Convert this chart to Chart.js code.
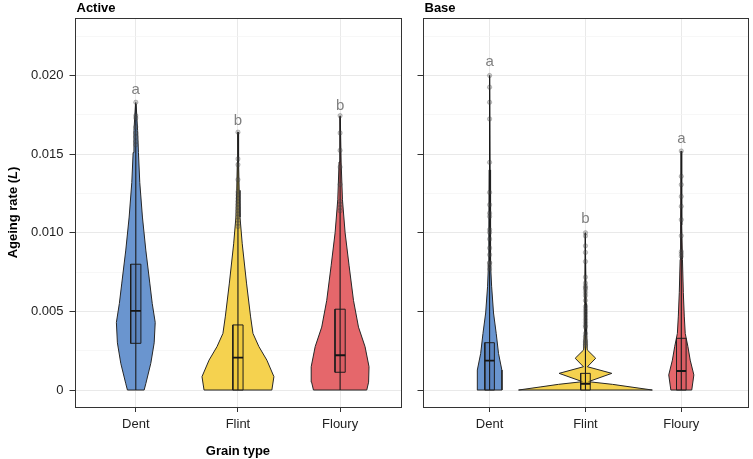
<!DOCTYPE html>
<html>
<head>
<meta charset="utf-8">
<script src="https://cdn.jsdelivr.net/npm/chart.js@4.4.1/dist/chart.umd.min.js"></script>
<style>
  html, body { margin: 0; padding: 0; background: #ffffff; }
  #wrap { position: relative; width: 753px; height: 459px; }
  #cA { position: absolute; left: 0; top: 0; }
  #cB { position: absolute; left: 406px; top: 0; }
</style>
</head>
<body>
<div id="wrap">
  <canvas id="cA" width="406" height="459"></canvas>
  <canvas id="cB" width="347" height="459"></canvas>
</div>
<script>
// ---------- data ----------
const categories = ['Dent', 'Flint', 'Floury'];
const panelTitles = ['Active', 'Base'];
const yTickValues = [0, 0.005, 0.010, 0.015, 0.020];
const yTickLabels = ['0', '0.005', '0.010', '0.015', '0.020'];
const yMinorValues = [0.0025, 0.0075, 0.0125, 0.0175, 0.0225];

// violin outlines: levels (ageing rate) and half-widths (category units)
const activeDentLevels   = [0, 0.0004, 0.0017, 0.003, 0.0043, 0.0055, 0.0068, 0.0089, 0.0110, 0.0132, 0.0151, 0.0165, 0.0182];
const activeDentWidths   = [0.082, 0.098, 0.147, 0.180, 0.190, 0.161, 0.137, 0.098, 0.065, 0.039, 0.026, 0.018, 0.003];
const activeFlintLevels  = [0, 0.00085, 0.0019, 0.00276, 0.0036, 0.0047, 0.0068, 0.0093, 0.0110, 0.0127, 0.0145, 0.0164];
const activeFlintWidths  = [0.332, 0.352, 0.283, 0.205, 0.147, 0.123, 0.084, 0.042, 0.020, 0.012, 0.006, 0.002];
const activeFlouryLevels = [0, 0.0005, 0.00148, 0.00276, 0.0040, 0.0057, 0.0079, 0.0100, 0.0121, 0.0145, 0.0174];
const activeFlouryWidths = [0.261, 0.279, 0.283, 0.244, 0.180, 0.131, 0.088, 0.049, 0.023, 0.010, 0.002];

const baseDentLevels   = [0, 0.00127, 0.00233, 0.0036, 0.0049, 0.0066, 0.008, 0.010, 0.014, 0.020];
const baseDentWidths   = [0.129, 0.128, 0.093, 0.069, 0.041, 0.021, 0.012, 0.008, 0.005, 0.002];
const baseFlintLevels  = [0, 0.0002, 0.00036, 0.00053, 0.00106, 0.00148, 0.00202, 0.00255, 0.0035, 0.0055, 0.010];
const baseFlintWidths  = [0.698, 0.465, 0.282, 0.031, 0.275, 0.021, 0.107, 0.019, 0.012, 0.008, 0.002];
const baseFlouryLevels = [0, 0.00096, 0.0019, 0.00276, 0.0036, 0.0047, 0.0062, 0.0083, 0.0105, 0.0152];
const baseFlouryWidths = [0.109, 0.131, 0.093, 0.069, 0.041, 0.031, 0.021, 0.012, 0.007, 0.002];

// box plots (per category: Dent, Flint, Floury)
const activeQ1     = [0.00297, 0, 0.00113];
const activeMedian = [0.00503, 0.00206, 0.00221];
const activeQ3     = [0.0080, 0.00414, 0.00514];
const activeMin    = [0, 0, 0];
const activeMax    = [0.0183, 0.0164, 0.01745];
const baseQ1       = [0, 0, 0];
const baseMedian   = [0.00187, 0.0004, 0.00121];
const baseQ3       = [0.00301, 0.00106, 0.00329];
const baseMin      = [0, 0, 0];
const baseMax      = [0.0200, 0.0100, 0.0152];

// individual high observations
const activeDentPoints   = [0.0183, 0.01745, 0.0173, 0.01673, 0.01635, 0.0161, 0.0158, 0.0156];
const activeFlintPoints  = [0.0164, 0.0147, 0.01433, 0.01338, 0.0126, 0.0124, 0.0122, 0.0120, 0.0118, 0.0116, 0.0114, 0.0112, 0.0110, 0.0108, 0.0106, 0.0104];
const activeFlouryPoints = [0.01745, 0.01635, 0.01524, 0.01418, 0.01308, 0.0120, 0.0118, 0.0116, 0.0114];
const baseDentPoints   = [0.0200, 0.01926, 0.0183, 0.01724, 0.01448, 0.01257, 0.01178, 0.01125, 0.01104, 0.0102, 0.01002, 0.0096, 0.00903, 0.0086, 0.0081, 0.00807, 0.0079, 0.0077];
const baseFlintPoints  = [0.0100, 0.0098, 0.00917, 0.00875, 0.00817, 0.00718, 0.0068, 0.0066, 0.0065, 0.0064, 0.0062, 0.0060, 0.0057, 0.0053, 0.0051, 0.0049, 0.0047, 0.0045, 0.0043, 0.0041, 0.0040, 0.0036, 0.0034, 0.0032, 0.0031, 0.0030, 0.0029, 0.0028];
const baseFlouryPoints = [0.0152, 0.01359, 0.01306, 0.01231, 0.01168, 0.01083, 0.00981, 0.00881, 0.00866, 0.0085];

// significance letters
const activeLetters = ['a', 'b', 'b'];
const activeLetterY = [0.0191, 0.0171, 0.0181];
const baseLetters   = ['a', 'b', 'a'];
const baseLetterY   = [0.02085, 0.01087, 0.01597];

// ---------- styles ----------
const violinColors = ['#6a95cf', '#f5d24f', '#e5676b'];
const boxColors    = ['rgba(80,120,180,0.55)', 'rgba(235,195,50,0.6)', 'rgba(210,85,92,0.55)'];
const FONT = '"Liberation Sans", Arial, Helvetica, sans-serif';
Chart.defaults.font.family = FONT;

function violinData(center, levels, widths) {
  const pts = [];
  for (let i = 0; i < levels.length; i++) pts.push({ x: center - widths[i], y: levels[i] });
  for (let i = levels.length - 1; i >= 0; i--) pts.push({ x: center + widths[i], y: levels[i] });
  pts.push({ x: center - widths[0], y: levels[0] });
  return pts;
}

function buildDatasets(violins, q1, med, q3, mn, mx, points) {
  const ds = [];
  const bw = 0.05;
  violins.forEach((v, i) => {
    const c = i + 1;
    ds.push({ data: violinData(c, v[0], v[1]), showLine: true, fill: 'shape', backgroundColor: violinColors[i],
      borderColor: '#262626', borderWidth: 1, pointRadius: 0, tension: 0, order: 5 });
    ds.push({ data: [{x: c - bw, y: q1[i]}, {x: c + bw, y: q1[i]}, {x: c + bw, y: q3[i]}, {x: c - bw, y: q3[i]}, {x: c - bw, y: q1[i]}],
      showLine: true, fill: 'shape', backgroundColor: boxColors[i], borderColor: '#1e1e1e', borderWidth: 1, pointRadius: 0, tension: 0, order: 4 });
    ds.push({ data: [{x: c, y: mn[i]}, {x: c, y: mx[i]}], showLine: true, fill: false,
      borderColor: '#1a1a1a', borderWidth: 1.1, pointRadius: 0, order: 3 });
    ds.push({ data: [{x: c - bw, y: med[i]}, {x: c + bw, y: med[i]}], showLine: true, fill: false,
      borderColor: '#151515', borderWidth: 1.8, pointRadius: 0, order: 2 });
    ds.push({ data: points[i].map(y => ({ x: c, y: y })), showLine: false, pointRadius: 2.2,
      pointBackgroundColor: 'rgba(90,90,90,0.3)', pointBorderColor: 'rgba(50,50,50,0.4)', pointBorderWidth: 0.6, order: 1 });
  });
  return ds;
}

const textPlugin = {
  id: 'txt',
  afterDraw(chart, args, o) {
    const { ctx, chartArea: a, scales } = chart;
    ctx.save();
    // panel border
    ctx.strokeStyle = '#333333';
    ctx.lineWidth = 1;
    ctx.strokeRect(Math.round(a.left) + 0.5, Math.round(a.top) + 0.5, Math.round(a.right - a.left) - 1, Math.round(a.bottom - a.top));
    // letters
    ctx.fillStyle = '#808080';
    ctx.font = '15px ' + FONT;
    ctx.textAlign = 'center';
    ctx.textBaseline = 'middle';
    o.letters.forEach((l, i) => ctx.fillText(l, scales.x.getPixelForValue(i + 1), scales.y.getPixelForValue(o.letterY[i])));
    // panel title
    ctx.fillStyle = '#000';
    ctx.font = 'bold 13px ' + FONT;
    ctx.textAlign = 'left';
    ctx.textBaseline = 'alphabetic';
    ctx.fillText(o.title, a.left + 2, 12);
    if (o.axisTitles) {
      ctx.textAlign = 'center';
      ctx.textBaseline = 'middle';
      ctx.fillText('Grain type', (a.left + a.right) / 2, 451);
      // y title with italic L
      ctx.save();
      ctx.translate(13, (a.top + a.bottom) / 2);
      ctx.rotate(-Math.PI / 2);
      const parts = [['Ageing rate (', 'bold 13px ' + FONT], ['L', 'italic bold 13px ' + FONT], [')', 'bold 13px ' + FONT]];
      let total = 0;
      parts.forEach(p => { ctx.font = p[1]; total += ctx.measureText(p[0]).width; });
      let x = -total / 2;
      ctx.textAlign = 'left';
      parts.forEach(p => { ctx.font = p[1]; ctx.fillText(p[0], x, 0); x += ctx.measureText(p[0]).width; });
      ctx.restore();
    }
    ctx.restore();
  }
};

function makeChart(id, cfg) {
  const allY = yTickValues.concat(yMinorValues);
  const isMajor = i => i < yTickValues.length;
  return new Chart(document.getElementById(id), {
    type: 'scatter',
    data: { datasets: cfg.datasets },
    options: {
      responsive: false,
      animation: false,
      events: [],
      layout: { padding: { top: 18, right: cfg.padRight, left: 0, bottom: 0 } },
      plugins: { legend: { display: false }, tooltip: { enabled: false }, txt: cfg.txt },
      scales: {
        x: {
          type: 'linear', min: cfg.xMin, max: cfg.xMax,
          afterBuildTicks: s => { s.ticks = [1, 2, 3].map(v => ({ value: v })); },
          afterFit: s => { s.height = 52; },
          border: { display: false },
          grid: { color: '#e9e9e9', lineWidth: 1, tickLength: 5, tickColor: '#333333' },
          ticks: { autoSkip: false, maxRotation: 0, padding: 5, color: '#222222', font: { size: 13, family: FONT },
            callback: (v, i) => categories[i] }
        },
        y: {
          type: 'linear', min: -0.00108, max: 0.02366,
          afterBuildTicks: s => { s.ticks = allY.map(v => ({ value: v })); },
          afterFit: s => { s.width = cfg.yWidth; },
          border: { display: false },
          grid: {
            color: c => isMajor(c.index) ? '#e9e9e9' : '#f3f3f3',
            lineWidth: c => isMajor(c.index) ? 1 : 0.7,
            tickLength: 5,
            tickColor: c => isMajor(c.index) ? '#333333' : 'rgba(0,0,0,0)'
          },
          ticks: { autoSkip: false, padding: 6, color: '#222222', font: { size: 13, family: FONT },
            callback: (v, i) => cfg.showYLabels && isMajor(i) ? yTickLabels[i] : '' }
        }
      }
    },
    plugins: [textPlugin]
  });
}

makeChart('cA', {
  datasets: buildDatasets(
    [[activeDentLevels, activeDentWidths], [activeFlintLevels, activeFlintWidths], [activeFlouryLevels, activeFlouryWidths]],
    activeQ1, activeMedian, activeQ3, activeMin, activeMax,
    [activeDentPoints, activeFlintPoints, activeFlouryPoints]),
  xMin: 0.4, xMax: 3.6, yWidth: 74.5, padRight: 4, showYLabels: true,
  txt: { letters: activeLetters, letterY: activeLetterY, title: panelTitles[0], axisTitles: true }
});

makeChart('cB', {
  datasets: buildDatasets(
    [[baseDentLevels, baseDentWidths], [baseFlintLevels, baseFlintWidths], [baseFlouryLevels, baseFlouryWidths]],
    baseQ1, baseMedian, baseQ3, baseMin, baseMax,
    [baseDentPoints, baseFlintPoints, baseFlouryPoints]),
  xMin: 0.3, xMax: 3.7, yWidth: 16.5, padRight: 2.3, showYLabels: false,
  txt: { letters: baseLetters, letterY: baseLetterY, title: panelTitles[1], axisTitles: false }
});
</script>
</body>
</html>
